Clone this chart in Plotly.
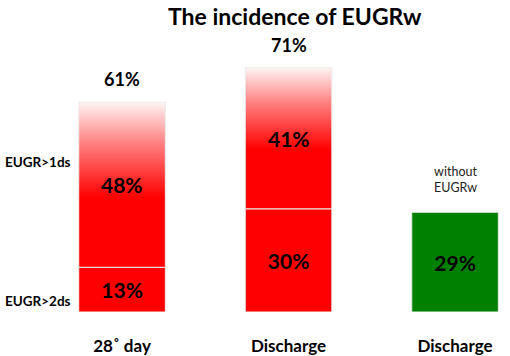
import plotly.graph_objects as go

categories = ["28˚ day", "Discharge", "Discharge"]
cat_pos = [0, 1, 2]
severe = [13, 30, None]        # EUGR>2ds (bottom red segment)
mild = [48, 41, None]          # EUGR>1ds (top gradient segment)
totals = [61, 71, None]
without = [None, None, 29]     # without EUGRw (green)
series_labels = ["EUGR>1ds", "EUGR>2ds"]

W = 0.52
FONT = "Lato"
EDGE = "#ececec"
VAL = dict(family=FONT, size=21, color="#000", weight="bold")
fig = go.Figure()

# gradient top segments
for i in range(2):
    c = cat_pos[i]
    base = severe[i]
    top = severe[i] + mild[i]
    fig.add_trace(go.Scatter(
        x=[c - W / 2, c + W / 2, c + W / 2, c - W / 2, c - W / 2],
        y=[base, base, top, top, base],
        mode="lines", line=dict(width=1, color=EDGE), fill="toself",
        fillgradient=dict(type="vertical",
                          colorscale=[[0, "#ff0000"], [0.42, "#ff0000"],
                                      [0.75, "#ff8080"], [1, "#fff4f4"]]),
        hoverinfo="skip", showlegend=False,
    ))
    fig.add_annotation(x=c, y=base + mild[i] / 2, text=f"<b>{mild[i]}%</b>",
                       showarrow=False,
                       font=dict(family=FONT, size=21, color="#000"))
    fig.add_annotation(x=c, y=top, yshift=23, text=f"<b>{totals[i]}%</b>",
                       showarrow=False,
                       font=dict(family=FONT, size=18, color="#000"))

# bottom solid red segments
fig.add_trace(go.Bar(
    x=cat_pos[:2], y=severe[:2], width=W,
    marker=dict(color="#ff0000", line=dict(color=EDGE, width=1)),
    text=[f"{v}%" for v in severe[:2]], textposition="inside",
    insidetextanchor="middle", textfont=VAL,
    showlegend=False, hoverinfo="skip",
))
# green bar
fig.add_trace(go.Bar(
    x=[cat_pos[2]], y=[without[2]], width=W,
    marker=dict(color="#008000", line=dict(color=EDGE, width=1)),
    text=[f"{without[2]}%"], textposition="inside", insidetextanchor="middle",
    textfont=VAL, showlegend=False, hoverinfo="skip",
))

fig.add_annotation(x=cat_pos[2], y=without[2], yshift=33,
                   text="without<br>EUGRw", showarrow=False,
                   font=dict(family=FONT, size=12.5, color="#222"))

# series labels on the left
fig.add_annotation(xref="paper", x=0.075, xanchor="center",
                   y=severe[0] + mild[0] / 2, yshift=23,
                   text=f"<b>{series_labels[0]}</b>", showarrow=False,
                   font=dict(family=FONT, size=13.5, color="#000"))
fig.add_annotation(xref="paper", x=0.075, xanchor="center",
                   y=severe[0] / 2, yshift=-11,
                   text=f"<b>{series_labels[1]}</b>", showarrow=False,
                   font=dict(family=FONT, size=13.5, color="#000"))

fig.update_layout(
    width=510, height=356,
    margin=dict(l=0, r=0, t=0, b=44),
    plot_bgcolor="white", paper_bgcolor="white",
    barmode="overlay",
    title=dict(text="<b>The incidence of EUGRw</b>", x=0.578, xanchor="center",
               y=0.952, yanchor="middle",
               font=dict(family=FONT, size=23, color="#000")),
    xaxis=dict(range=[-0.733, 2.33], tickvals=cat_pos, ticktext=categories,
               showgrid=False, zeroline=False, showline=False,
               ticklabelstandoff=22, fixedrange=True,
               tickfont=dict(family=FONT, size=17, color="#000", weight="bold")),
    yaxis=dict(range=[0, 90.7], visible=False, fixedrange=True),
)

fig.write_html("out.html", config={"displayModeBar": False},
               post_script="document.body.style.margin='0';document.body.style.overflow='hidden';")
